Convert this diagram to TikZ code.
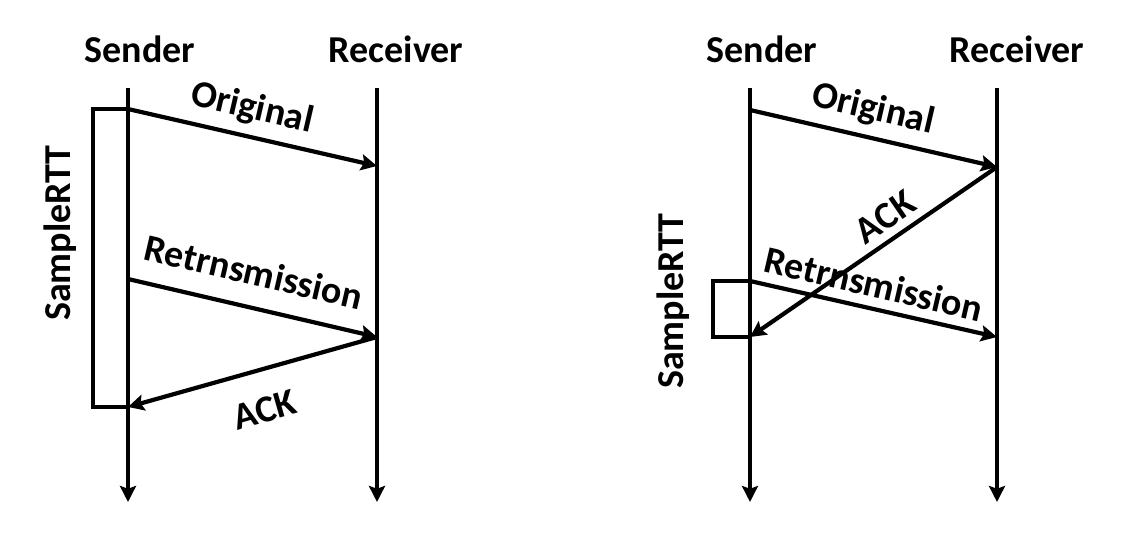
\documentclass[tikz,border=0pt]{standalone}
\usepackage{fontspec}
\setmainfont{Carlito}
\usetikzlibrary{arrows.meta}
\begin{document}
\begin{tikzpicture}[x=0.5pt,y=-0.5pt,
  lw/.style={line width=2.1pt},
  arr/.style={lw,-{Stealth[length=8pt,width=8pt,inset=1.4pt]}},
  lbl/.style={font=\fontsize{19}{23}\selectfont\bfseries,inner sep=0pt},
  hdr/.style={lbl,anchor=base}]
\useasboundingbox (0,0) rectangle (1141,550);
% left diagram
\coordinate (ls0) at (128,88); \coordinate (ls1) at (128,502);
\coordinate (lr0) at (377,88); \coordinate (lr1) at (377,502);
\coordinate (lsA) at (128,109); \coordinate (lrA) at (377,166);
\coordinate (lsB) at (128,279); \coordinate (lrB) at (377,337);
\coordinate (lsC) at (128,407);
\coordinate (lbx0) at (93,109); \coordinate (lbx1) at (93,407);
\node[hdr] (lsend) at (140,63) {Sender};
\node[hdr] (lrecv) at (396,63) {Receiver};
\draw[arr] (ls0) -- (ls1);
\draw[arr] (lr0) -- (lr1);
\draw[arr] (lsA) -- (lrA);
\draw[arr] (lsB) -- (lrB);
\draw[arr] (lrB) -- (lsC);
\draw[lw,line join=miter] (lsA) -- (lbx0) -- (lbx1) -- (lsC);
\node[lbl,rotate=-13] (lorig) at (252,109) {Original};
\node[lbl,rotate=-13] (lretr) at (254,272) {Retrnsmission};
\node[lbl,rotate=16] (lack) at (265,410) {ACK};
\node[lbl,rotate=90,anchor=base] (lrtt) at (70,233) {SampleRTT};
% right diagram
\coordinate (rs0) at (750,88); \coordinate (rs1) at (750,502);
\coordinate (rr0) at (997,88); \coordinate (rr1) at (997,502);
\coordinate (rsA) at (750,110); \coordinate (rrA) at (997,167);
\coordinate (rsB) at (750,281); \coordinate (rrB) at (997,337);
\coordinate (rsC) at (750,337);
\coordinate (rbx0) at (713,281); \coordinate (rbx1) at (713,337);
\node[hdr] (rsend) at (762,63) {Sender};
\node[hdr] (rrecv) at (1017,63) {Receiver};
\draw[arr] (rs0) -- (rs1);
\draw[arr] (rr0) -- (rr1);
\draw[arr] (rsA) -- (rrA);
\draw[arr] (rrA) -- (rsC);
\draw[arr] (rsB) -- (rrB);
\draw[lw,line join=miter] (rsB) -- (rbx0) -- (rbx1) -- (rsC);
\node[lbl,rotate=-13] (rorig) at (873,110) {Original};
\node[lbl,rotate=34.5] (rack) at (885,217) {ACK};
\node[lbl,rotate=-13] (rretr) at (874,284) {Retrnsmission};
\node[lbl,rotate=90,anchor=base] (rrtt) at (683,301) {SampleRTT};
\end{tikzpicture}
\end{document}
